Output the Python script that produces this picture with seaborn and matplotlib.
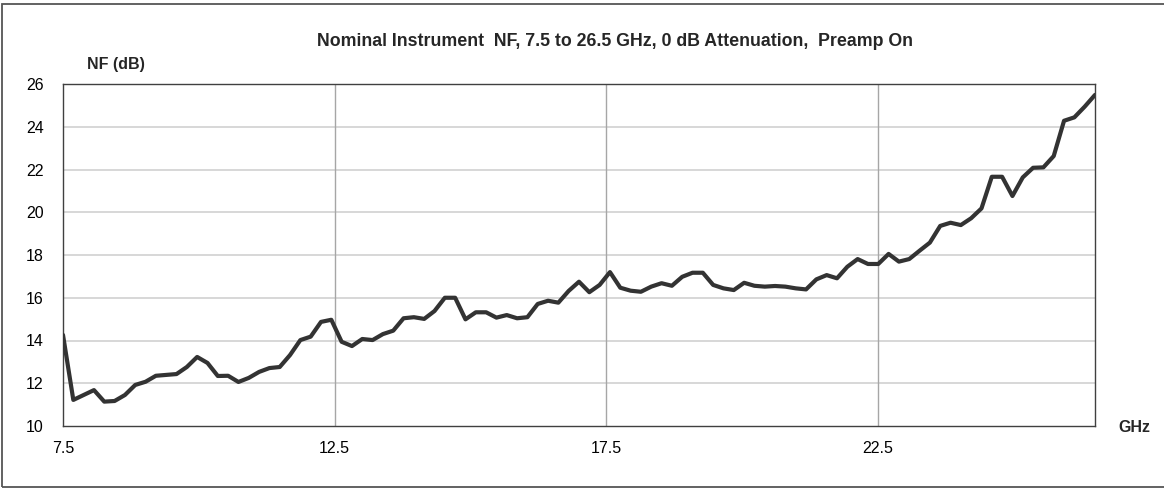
import numpy as np
import pandas as pd
import matplotlib
matplotlib.use("Agg")
import matplotlib.pyplot as plt
import seaborn as sns
from matplotlib.patches import Rectangle

# frequency grid (GHz) and noise figure (dB)
freq_ghz = [
    7.50, 7.69, 7.88, 8.07, 8.26, 8.45, 8.64, 8.83, 9.02, 9.21,
    9.40, 9.59, 9.78, 9.97, 10.16, 10.35, 10.54, 10.73, 10.92, 11.11,
    11.30, 11.49, 11.68, 11.87, 12.06, 12.25, 12.44, 12.63, 12.82, 13.01,
    13.20, 13.39, 13.58, 13.77, 13.96, 14.15, 14.34, 14.53, 14.72, 14.91,
    15.10, 15.29, 15.48, 15.67, 15.86, 16.05, 16.24, 16.43, 16.62, 16.81,
    17.00, 17.19, 17.38, 17.57, 17.76, 17.95, 18.14, 18.33, 18.52, 18.71,
    18.90, 19.09, 19.28, 19.47, 19.66, 19.85, 20.04, 20.23, 20.42, 20.61,
    20.80, 20.99, 21.18, 21.37, 21.56, 21.75, 21.94, 22.13, 22.32, 22.51,
    22.70, 22.89, 23.08, 23.27, 23.46, 23.65, 23.84, 24.03, 24.22, 24.41,
    24.60, 24.79, 24.98, 25.17, 25.36, 25.55, 25.74, 25.93, 26.12, 26.31,
    26.50,
]
nf_db = [
    14.26, 11.22, 11.45, 11.68, 11.14, 11.17, 11.45, 11.92, 12.07, 12.35,
    12.39, 12.43, 12.76, 13.23, 12.95, 12.34, 12.35, 12.06, 12.25, 12.53,
    12.71, 12.76, 13.32, 14.02, 14.18, 14.87, 14.97, 13.94, 13.74, 14.07,
    14.02, 14.30, 14.46, 15.04, 15.09, 15.01, 15.38, 16.00, 16.00, 14.99,
    15.32, 15.32, 15.07, 15.19, 15.04, 15.09, 15.71, 15.86, 15.77, 16.32,
    16.75, 16.26, 16.60, 17.20, 16.47, 16.33, 16.28, 16.52, 16.68, 16.56,
    16.98, 17.17, 17.17, 16.60, 16.44, 16.36, 16.70, 16.56, 16.52, 16.55,
    16.52, 16.44, 16.39, 16.86, 17.06, 16.91, 17.45, 17.81, 17.58, 17.58,
    18.05, 17.69, 17.81, 18.20, 18.58, 19.36, 19.51, 19.40, 19.72, 20.18,
    21.66, 21.66, 20.76, 21.63, 22.08, 22.10, 22.63, 24.28, 24.44, 24.94,
    25.49,
]
x_ticks = [7.5, 12.5, 17.5, 22.5]
y_ticks = [10, 12, 14, 16, 18, 20, 22, 24, 26]

df = pd.DataFrame({"freq": freq_ghz, "nf": nf_db})

sns.set_style("white")
plt.rcParams["font.family"] = ["Liberation Sans", "DejaVu Sans"]

W, H = 1164, 492
fig = plt.figure(figsize=(W / 100, H / 100), dpi=100)
ax = fig.add_axes([63 / W, 1 - 426 / H, (1095 - 63) / W, (426 - 84) / H])

# outer frame of the picture
fig.patches.append(Rectangle((1.5 / W, 1 - 487 / H), 1.2, (487 - 4) / H,
                             transform=fig.transFigure, fill=False,
                             edgecolor="#555555", linewidth=1.3))

for v in y_ticks[1:-1]:
    ax.axhline(v, color="#d4d4d4", linewidth=1.3, zorder=1)
for v in x_ticks[1:]:
    ax.axvline(v, color="#a6a6a6", linewidth=1.0, zorder=1)

sns.lineplot(data=df, x="freq", y="nf", ax=ax, color="#333333",
             linewidth=3.0, zorder=3)
ax.lines[-1].set_solid_joinstyle("round")

ax.set_xlim(7.5, 26.5)
ax.set_ylim(10, 26)
ax.set_xticks(x_ticks)
ax.set_xticklabels([str(t) for t in x_ticks])
ax.set_yticks(y_ticks)
ax.tick_params(axis="both", length=0, labelsize=11.5, colors="black")
ax.tick_params(axis="y", pad=14)
ax.tick_params(axis="x", pad=11)
ax.set_xlabel("")
ax.set_ylabel("")
for s in ax.spines.values():
    s.set_visible(True)
    s.set_color("#404040")
    s.set_linewidth(1.0)

fig.text(615 / W, 1 - 42 / H,
         "Nominal Instrument  NF, 7.5 to 26.5 GHz, 0 dB Attenuation,  Preamp On",
         ha="center", va="center", fontsize=12.8, fontweight="bold")
fig.text(116 / W, 1 - 65 / H, "NF (dB)", ha="center", va="center",
         fontsize=11.5, fontweight="bold")
fig.text(1134 / W, 1 - 427 / H, "GHz", ha="center", va="center",
         fontsize=11.5, fontweight="bold")

fig.savefig("out.png", dpi=100)
